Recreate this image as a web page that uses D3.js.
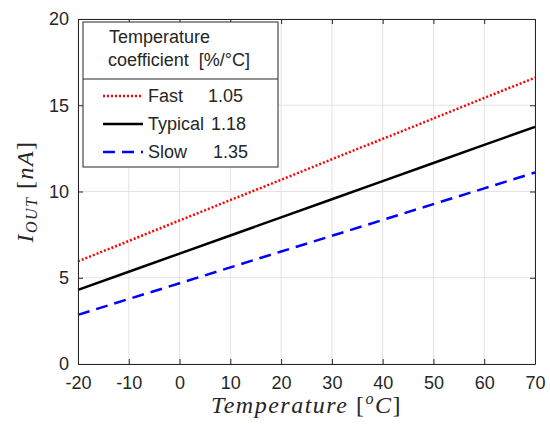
<!DOCTYPE html>
<html>
<head>
<meta charset="utf-8">
<script src="https://cdn.jsdelivr.net/npm/d3@7"></script>
<style>
  body { margin: 0; background: #fff; }
  svg { display: block; }
  text { font-family: "Liberation Sans", Arial, sans-serif; fill: #262626; }
  .serif { font-family: "Liberation Serif", "DejaVu Serif", serif; fill: #262626; }
</style>
</head>
<body>
<svg id="chart"></svg>
<script>
const temps = [-20, -10, 0, 10, 20, 30, 40, 50, 60, 70];
const fastVals = [5.95, 7.13, 8.32, 9.5, 10.68, 11.87, 13.05, 14.23, 15.42, 16.6];
const typicalVals = [4.3, 5.35, 6.4, 7.45, 8.5, 9.55, 10.6, 11.65, 12.7, 13.75];
const slowVals = [2.85, 3.77, 4.68, 5.6, 6.52, 7.43, 8.35, 9.27, 10.18, 11.1];
const seriesNames = ["Fast", "Typical", "Slow"];
const coefLabels = ["1.05", "1.18", "1.35"];
const xTicks = [-20, -10, 0, 10, 20, 30, 40, 50, 60, 70];
const yTicks = [0, 5, 10, 15, 20];

const width = 550;
const height = 424;
const margin = {left: 78, right: 15, top: 19, bottom: 60};

const svg = d3.select("#chart")
    .attr("width", width)
    .attr("height", height);

const x = d3.scaleLinear().domain([-20, 70]).range([margin.left, width - margin.right]);
const y = d3.scaleLinear().domain([0, 20]).range([height - margin.bottom, margin.top]);

// grid
svg.append("g").selectAll("line").data(xTicks).enter().append("line")
    .attr("x1", d => x(d)).attr("x2", d => x(d))
    .attr("y1", y(0)).attr("y2", y(20))
    .attr("stroke", "#e3e3e3").attr("stroke-width", 1);
svg.append("g").selectAll("line").data(yTicks).enter().append("line")
    .attr("x1", x(-20)).attr("x2", x(70))
    .attr("y1", d => y(d)).attr("y2", d => y(d))
    .attr("stroke", "#e3e3e3").attr("stroke-width", 1);

// lines
const series = [
  {name: "Fast", vals: fastVals, color: "#ff0000", dash: "2,2"},
  {name: "Typical", vals: typicalVals, color: "#000000", dash: null},
  {name: "Slow", vals: slowVals, color: "#0000ff", dash: "12,7"}
];

const line = d3.line().x((d, i) => x(temps[i])).y(d => y(d));

series.forEach(s => {
    svg.append("path")
        .datum(s.vals)
        .attr("d", line)
        .attr("fill", "none")
        .attr("stroke", s.color)
        .attr("stroke-width", 2.5)
        .attr("stroke-dasharray", s.dash);
});

// axes (box with inward ticks)
const axisColor = "#262626";
const fmt = d => String(d);
const xAxis = d3.axisBottom(x).tickValues(xTicks).tickFormat(fmt).tickSizeInner(-5).tickSizeOuter(0).tickPadding(9);
const yAxis = d3.axisLeft(y).tickValues(yTicks).tickFormat(fmt).tickSizeInner(-5).tickSizeOuter(0).tickPadding(9);

const gx = svg.append("g").attr("transform", `translate(0,${y(0)})`).call(xAxis);
const gy = svg.append("g").attr("transform", `translate(${x(-20)},0)`).call(yAxis);
const gxt = svg.append("g").attr("transform", `translate(0,${y(20)})`)
    .call(d3.axisTop(x).tickValues(xTicks).tickSizeInner(-5).tickSizeOuter(0).tickFormat(""));
const gyr = svg.append("g").attr("transform", `translate(${x(70)},0)`)
    .call(d3.axisRight(y).tickValues(yTicks).tickSizeInner(-5).tickSizeOuter(0).tickFormat(""));

[gx, gy, gxt, gyr].forEach(g => {
    g.select(".domain").attr("stroke", axisColor).attr("stroke-width", 1);
    g.selectAll(".tick line").attr("stroke", axisColor);
    g.selectAll(".tick text")
        .attr("fill", axisColor)
        .style("font-family", '"Liberation Sans", Arial, sans-serif')
        .style("font-size", "18px");
});
gx.selectAll(".tick text").attr("dy", "0.9em");

// axis labels
const xl = svg.append("text").attr("class", "serif")
    .attr("x", (x(-20) + x(70)) / 2).attr("y", 413)
    .attr("text-anchor", "middle")
    .style("font-size", "24px")
    .style("letter-spacing", "1.5px");
xl.append("tspan").attr("font-style", "italic").text("Temperature ");
xl.append("tspan").text("[");
xl.append("tspan").attr("font-style", "italic").attr("font-size", "16px").attr("dy", -9).text("o");
xl.append("tspan").attr("font-style", "italic").attr("dy", 9).text("C");
xl.append("tspan").text("]");

const yl = svg.append("text").attr("class", "serif")
    .attr("transform", `translate(33,${(y(0) + y(20)) / 2}) rotate(-90)`)
    .attr("text-anchor", "middle")
    .style("font-size", "24px")
    .style("letter-spacing", "1.5px");
yl.append("tspan").attr("font-style", "italic").text("I");
yl.append("tspan").attr("font-style", "italic").attr("font-size", "16px").attr("dy", 4).text("OUT");
yl.append("tspan").attr("dy", -4).text(" [");
yl.append("tspan").attr("font-style", "italic").text("nA");
yl.append("tspan").text("]");

// legend
const lg = svg.append("g");
const lx = 83, ly = 22, lw = 195, lh = 145, ldiv = 57;
lg.append("rect").attr("x", lx).attr("y", ly).attr("width", lw).attr("height", lh)
    .attr("fill", "#fff").attr("stroke", axisColor).attr("stroke-width", 1);
lg.append("line").attr("x1", lx).attr("x2", lx + lw).attr("y1", ly + ldiv).attr("y2", ly + ldiv)
    .attr("stroke", axisColor).attr("stroke-width", 1);
lg.append("text").attr("x", 109).attr("y", 43).style("font-size", "18px").text("Temperature");
lg.append("text").attr("x", 108).attr("y", 66).style("font-size", "18px")
    .attr("xml:space", "preserve").text("coefficient  [%/°C]");

const rowY = [96, 124, 152];
const coefX = [208, 211, 213];
series.forEach((s, i) => {
    lg.append("line")
        .attr("x1", 103).attr("x2", 143)
        .attr("y1", rowY[i]).attr("y2", rowY[i])
        .attr("stroke", s.color).attr("stroke-width", 2.5)
        .attr("stroke-dasharray", s.dash);
    lg.append("text").attr("x", 148).attr("y", rowY[i] + 6)
        .style("font-size", "18px").text(seriesNames[i]);
    lg.append("text").attr("x", coefX[i]).attr("y", rowY[i] + 6)
        .style("font-size", "18px").text(coefLabels[i]);
});
</script>
</body>
</html>
